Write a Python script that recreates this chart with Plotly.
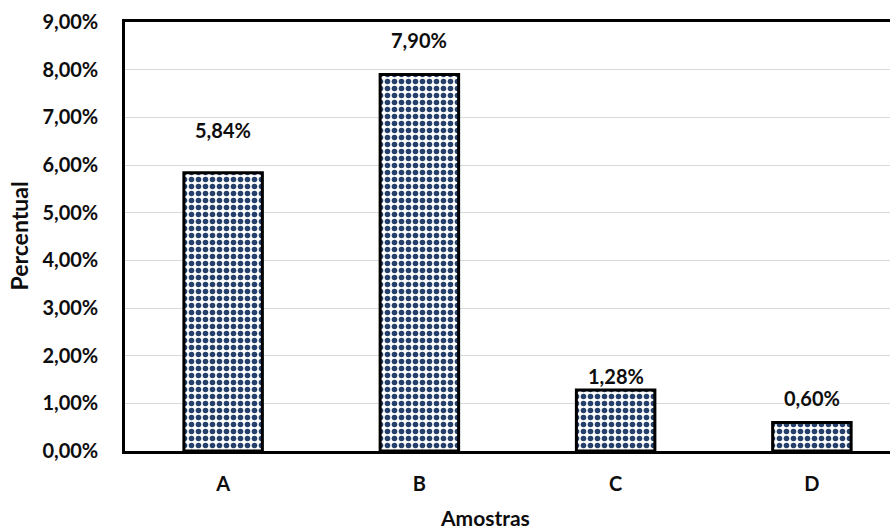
import plotly.graph_objects as go

categories = ["A", "B", "C", "D"]
values = [0.0584, 0.0790, 0.0128, 0.0060]
label_shift = [43, 34, 14, 24]
y_ticks = [0, 0.01, 0.02, 0.03, 0.04, 0.05, 0.06, 0.07, 0.08, 0.09]

FONT = "Lato"
TXT = "#0d0d0d"

fig = go.Figure()
fig.add_trace(go.Bar(
    x=categories, y=values, width=0.4,
    marker=dict(
        color="white",
        line=dict(color="black", width=3),
        pattern=dict(shape=".", size=7, solidity=0.5, fgcolor="#25406A", bgcolor="white", fillmode="replace"),
    ),
    hoverinfo="skip",
))

for c, v, s in zip(categories, values, label_shift):
    fig.add_annotation(x=c, y=v, text="<b>" + f"{v*100:.2f}".replace(".", ",") + "%</b>",
                       showarrow=False, yanchor="middle", yshift=s,
                       font=dict(family=FONT, size=20, color=TXT))

fig.add_annotation(xref="paper", yref="paper", x=0.5, y=0, yshift=-66, xshift=-23,
                   text="<b>Amostras</b>", showarrow=False, yanchor="middle",
                   font=dict(family=FONT, size=21, color=TXT))
fig.add_annotation(xref="paper", yref="paper", x=0, y=0.5, xshift=-107, yshift=0,
                   text="<b>Percentual</b>", showarrow=False, textangle=-90, xanchor="center",
                   font=dict(family=FONT, size=23, color=TXT))

fig.update_layout(
    width=890, height=531,
    margin=dict(l=125, r=0, t=22, b=80),
    paper_bgcolor="white", plot_bgcolor="white",
    separators=",.",
    showlegend=False,
    font=dict(family=FONT, color=TXT),
)
fig.update_xaxes(
    range=[-0.5, 3.398], automargin=False,
    showline=True, linecolor="black", linewidth=2.5, mirror=True,
    ticks="", ticklabelstandoff=13,
    tickfont=dict(family=FONT, size=20, weight="bold", color=TXT),
)
fig.update_yaxes(
    range=[0, 0.09], tickvals=y_ticks, tickformat=".2%", automargin=False,
    showline=True, linecolor="black", linewidth=2.5,
    showgrid=True, gridcolor="#d9d9d9", gridwidth=1,
    zeroline=False, ticks="", ticklabelstandoff=20,
    tickfont=dict(family=FONT, size=20, weight="bold", color=TXT),
)

fig.write_html("out.html", config={"displayModeBar": False},
               post_script="document.body.style.margin='0px';")
